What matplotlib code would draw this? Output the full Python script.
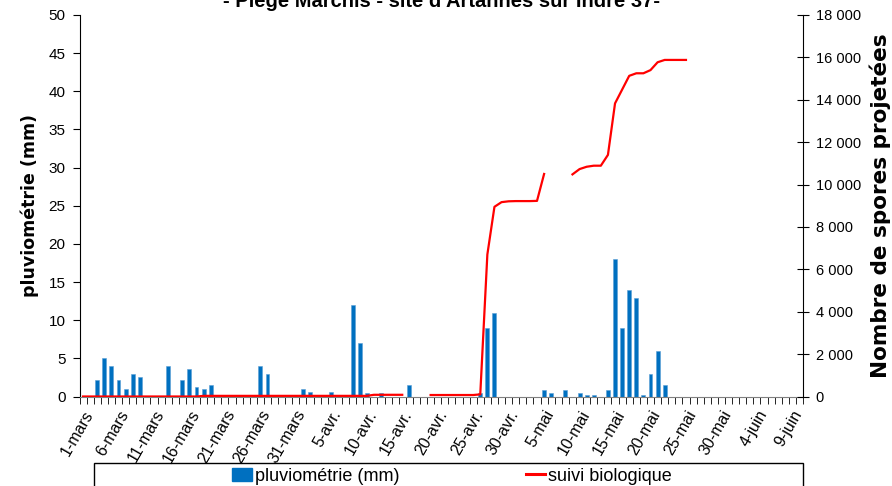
import numpy as np
import matplotlib
matplotlib.use("Agg")
import matplotlib.pyplot as plt
from matplotlib.patches import Patch, Rectangle
from matplotlib.lines import Line2D
from matplotlib.ticker import FuncFormatter

plt.rcParams["font.family"] = ["Liberation Sans", "DejaVu Sans"]

# daily rainfall (mm), 1-mars .. 10-juin
rain_mars = [0, 0, 2.1, 5, 4, 2.1, 1, 3, 2.5, 0, 0, 0, 4, 0, 2.1, 3.6, 1.2, 1, 1.5, 0,
             0, 0, 0, 0, 0, 4, 3, 0, 0, 0, 0]
rain_avril = [1.0, 0.6, 0, 0, 0.6, 0, 0, 12, 7, 0.5, 0, 0.5, 0, 0, 0, 1.5, 0, 0, 0, 0,
              0, 0, 0, 0, 0, 0.5, 9, 11, 0, 0]
rain_mai = [0, 0, 0, 0, 0.8, 0.5, 0, 0.9, 0, 0.5, 0.15, 0.15, 0, 0.9, 18, 9, 13.9, 12.9, 0.2, 3,
            6, 1.5, 0, 0, 0, 0, 0, 0, 0, 0, 0]
rain_juin = [0, 0, 0, 0, 0, 0, 0, 0, 0, 0]

# cumulative spores (None = no measurement)
spores_mars = [0] * 17 + [30] * 14
spores_avril = [30] * 10 + [80] * 5 + [None] * 3 + [70] * 7 + [100, 6700, 8950, 9170, 9210]
spores_mai = [9220, 9220, 9220, 9230, 10500, None, None, None, 10480, 10730, 10840, 10890,
              10890, 11400, 13830, 14480, 15130, 15250, 15250, 15400, 15770, 15880, 15880,
              15880, 15880] + [None] * 6
spores_juin = [None] * 10

tick_labels = ["1-mars", "6-mars", "11-mars", "16-mars", "21-mars", "26-mars", "31-mars",
               "5-avr.", "10-avr.", "15-avr.", "20-avr.", "25-avr.", "30-avr.", "5-mai",
               "10-mai", "15-mai", "20-mai", "25-mai", "30-mai", "4-juin", "9-juin"]

rain = np.array(rain_mars + rain_avril + rain_mai + rain_juin, dtype=float)
spores = np.array([np.nan if v is None else v for v in spores_mars + spores_avril + spores_mai + spores_juin], dtype=float)
n = len(rain)
x = np.arange(n)

fig = plt.figure(figsize=(8.92, 4.86), dpi=100)
ax = fig.add_axes([79.5 / 892, 1 - 396.5 / 486, (803 - 79.5) / 892, (396.5 - 15) / 486])
ax.bar(x, rain, width=0.55, color="#0070C0", edgecolor="#5a9fd6", linewidth=0.4, zorder=2)
ax.set_xlim(-0.5, n - 0.5)
ax.set_ylim(0, 50)
ax.set_yticks(np.arange(0, 51, 5))

ax.spines["top"].set_visible(False)
ax.spines["right"].set_visible(False)
ax.spines["bottom"].set_color("#808080")

ax.set_xticks(np.arange(0, n, 5))
ax.set_xticklabels(tick_labels, rotation=60, ha="right", va="top", rotation_mode="anchor", fontsize=11.5)
ax.set_xticks(np.arange(n + 1) - 0.5, minor=True)
ax.tick_params(axis="x", which="major", length=0, pad=8)
ax.tick_params(axis="x", which="minor", length=5, direction="out", color="black")
ax.tick_params(axis="y", length=5, direction="out", labelsize=11, pad=5)
ax.set_ylabel("pluviométrie (mm)", family="DejaVu Sans", fontweight="bold", fontsize=12.5)
ax.yaxis.set_label_coords((30 - 79.5) / 723.5, 0.5)
ax.yaxis.label.set_va("center")

ax2 = ax.twinx()
ax2.plot(x, spores, color="#FF0000", linewidth=1.6, zorder=3)
ax2.set_ylim(0, 18000)
ax2.set_yticks(np.arange(0, 18001, 2000))
ax2.yaxis.set_major_formatter(FuncFormatter(lambda v, p: f"{int(v):,}".replace(",", " ")))
ax2.spines["top"].set_visible(False)
ax2.spines["left"].set_visible(False)
ax2.spines["bottom"].set_visible(False)
ax2.tick_params(axis="y", length=8, direction="inout", labelsize=10.5, pad=5)
ax2.set_ylabel("Nombre de spores projetées", family="DejaVu Sans", fontweight="bold", fontsize=15.5)
ax2.yaxis.set_label_coords((880 - 79.5) / 723.5, 0.5)
ax2.yaxis.label.set_va("center")
ax2.yaxis.label.set_ha("center")

fig.text(0.495, 1 - 7 / 486, "- Piège Marchis - site d'Artannes sur Indre 37-",
         ha="center", va="baseline", fontweight="bold", fontsize=14.5)

fig.patches.append(Rectangle((94 / 892, -0.02), (803 - 94) / 892, 0.02 + (486 - 463) / 486,
                             transform=fig.transFigure, fill=False, edgecolor="black", linewidth=1))
handles = [Patch(facecolor="#0070C0", edgecolor="#0070C0"),
           Line2D([0], [0], color="#FF0000", linewidth=2.2)]
fig.legend(handles, ["pluviométrie (mm)", "suivi biologique"], loc="center",
           bbox_to_anchor=(452 / 892, 1 - 476 / 486), ncol=2, frameon=False,
           fontsize=13, handlelength=1.1, handletextpad=0.15, columnspacing=7.0)

fig.savefig("out.png", dpi=100)
